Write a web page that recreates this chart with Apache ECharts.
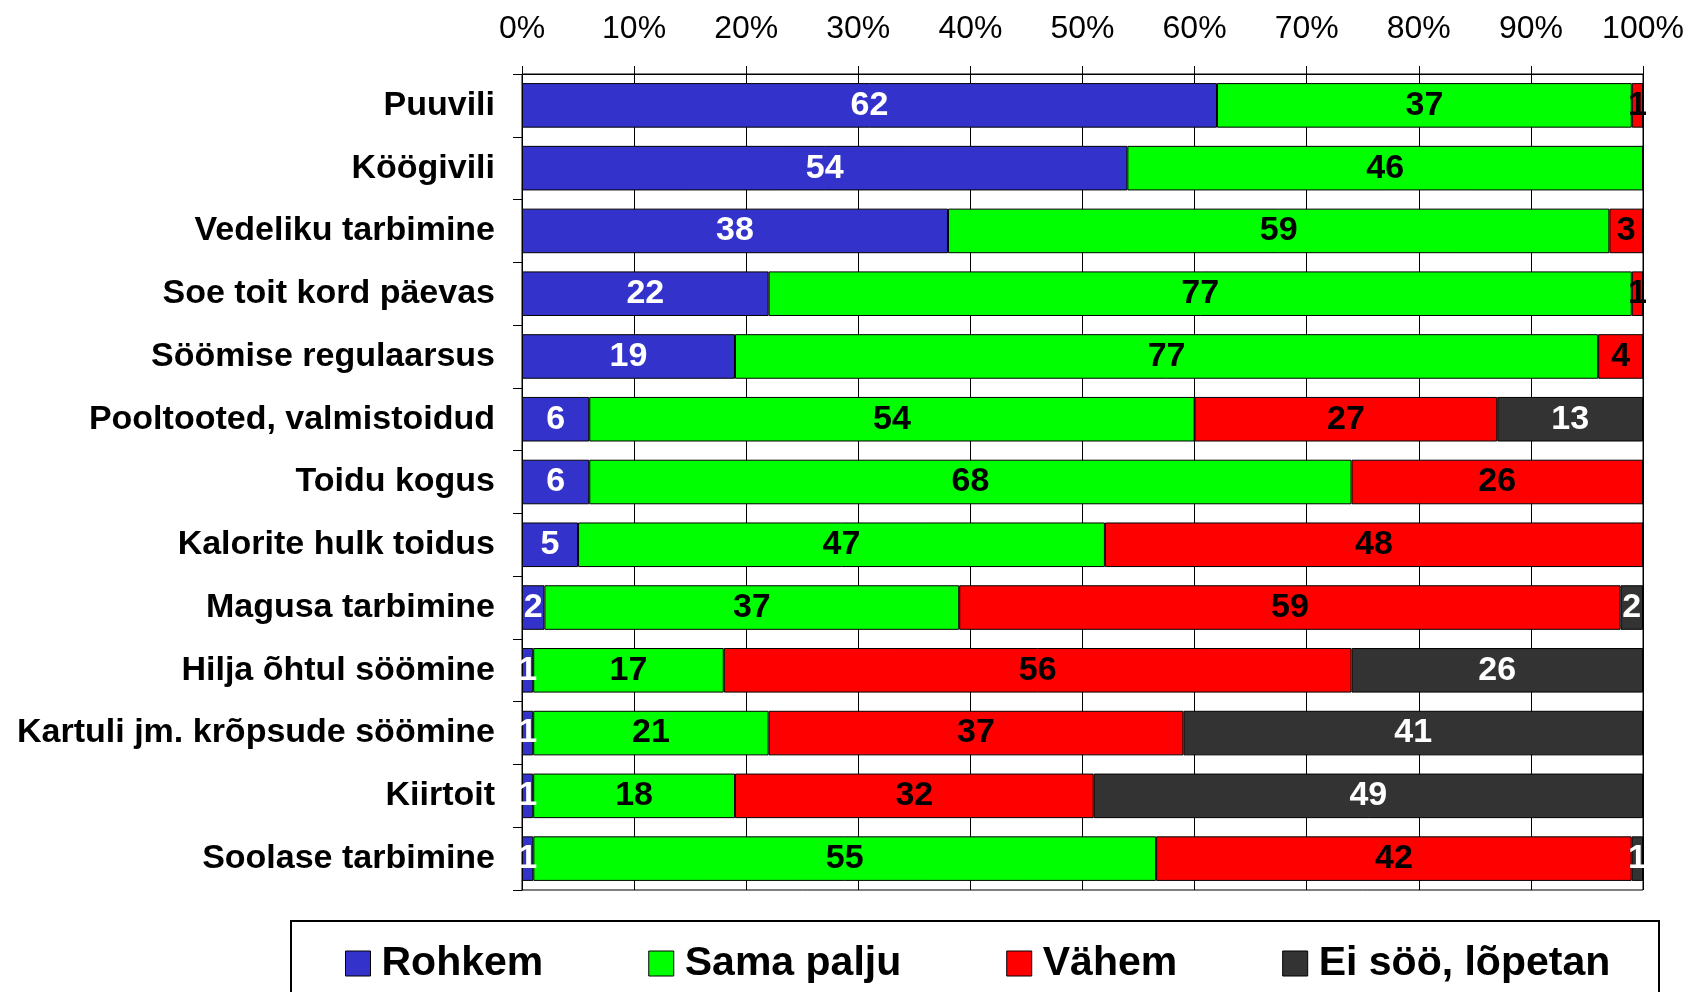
<!DOCTYPE html>
<html>
<head>
<meta charset="utf-8">
<title>Toitumisharjumused</title>
<script src="https://cdn.jsdelivr.net/npm/echarts@6/dist/echarts.min.js"></script>
<style>
  html, body { margin: 0; padding: 0; background: #fff; }
  #main { width: 1693px; height: 992px; }
</style>
</head>
<body>
<div id="main"></div>
<script>
// kategooriad (ülevalt alla)
const categories = [
  "Puuvili", "Köögivili", "Vedeliku tarbimine", "Soe toit kord päevas",
  "Söömise regulaarsus", "Pooltooted, valmistoidud", "Toidu kogus",
  "Kalorite hulk toidus", "Magusa tarbimine", "Hilja õhtul söömine",
  "Kartuli jm. krõpsude söömine", "Kiirtoit", "Soolase tarbimine"
];

// vastuste jaotus (%)
const rohkem    = [62, 54, 38, 22, 19, 6, 6, 5, 2, 1, 1, 1, 1];
const samaPalju = [37, 46, 59, 77, 77, 54, 68, 47, 37, 17, 21, 18, 55];
const vahem     = [1, 0, 3, 1, 4, 27, 26, 48, 59, 56, 37, 32, 42];
const eiSoo     = [0, 0, 0, 0, 0, 13, 0, 0, 2, 26, 41, 49, 1];

const tickLabels = ["0%", "10%", "20%", "30%", "40%", "50%", "60%", "70%", "80%", "90%", "100%"];

const FONT = "'Liberation Sans', Arial, sans-serif";

// rea summa järgi 100% peale
const rowSum = categories.map((c, i) => rohkem[i] + samaPalju[i] + vahem[i] + eiSoo[i]);

function makeSeries(name, values, color, labelColor) {
  return {
    name: name,
    type: "bar",
    stack: "kokku",
    barCategoryGap: "29%",
    data: values.map((v, i) => ({ value: v / rowSum[i] * 100, raw: v })),
    itemStyle: { color: color, borderColor: "#000", borderWidth: 1 },
    label: {
      show: true,
      position: "inside",
      color: labelColor,
      fontFamily: FONT,
      fontWeight: "bold",
      fontSize: 34,
      formatter: function (p) { return p.data.raw ? String(p.data.raw) : ""; }
    },
    emphasis: { disabled: true }
  };
}

const chart = echarts.init(document.getElementById("main"));

chart.setOption({
  backgroundColor: "#fff",
  animation: false,
  grid: {
    left: 522, right: 50, top: 74, bottom: 102,
    show: true, borderColor: "#000", borderWidth: 1
  },
  legend: {
    data: ["Rohkem", "Sama palju", "Vähem", "Ei söö, lõpetan"],
    left: 340,
    top: 938,
    itemWidth: 25,
    itemHeight: 25,
    itemGap: 105,
    icon: "rect",
    itemStyle: { borderColor: "#000", borderWidth: 1 },
    textStyle: {
      fontFamily: FONT, fontWeight: "bold", fontSize: 41, color: "#000",
      padding: [0, 0, 0, 6]
    }
  },
  graphic: [{
    type: "rect",
    shape: { x: 291, y: 921, width: 1368, height: 90 },
    style: { fill: "none", stroke: "#000", lineWidth: 2 },
    silent: true
  }],
  xAxis: {
    type: "value",
    position: "top",
    min: 0,
    max: 100,
    interval: 10,
    axisLine: { show: true, lineStyle: { color: "#000", width: 1 } },
    axisTick: { show: true, length: 8, lineStyle: { color: "#000" } },
    splitLine: { show: true, lineStyle: { color: "#000", width: 1 } },
    axisLabel: {
      margin: 29,
      color: "#000",
      fontFamily: FONT,
      fontSize: 32,
      formatter: function (v) { return tickLabels[Math.round(v / 10)]; }
    }
  },
  yAxis: {
    type: "category",
    data: categories,
    inverse: true,
    axisLine: { show: true, lineStyle: { color: "#000", width: 1 } },
    axisTick: { show: true, length: 9, lineStyle: { color: "#000" } },
    axisLabel: {
      margin: 27,
      color: "#000",
      fontFamily: FONT,
      fontWeight: "bold",
      fontSize: 34
    }
  },
  series: [
    makeSeries("Rohkem", rohkem, "#3333CC", "#fff"),
    makeSeries("Sama palju", samaPalju, "#00FF00", "#000"),
    makeSeries("Vähem", vahem, "#FF0000", "#000"),
    makeSeries("Ei söö, lõpetan", eiSoo, "#333333", "#fff")
  ]
});
</script>
</body>
</html>
